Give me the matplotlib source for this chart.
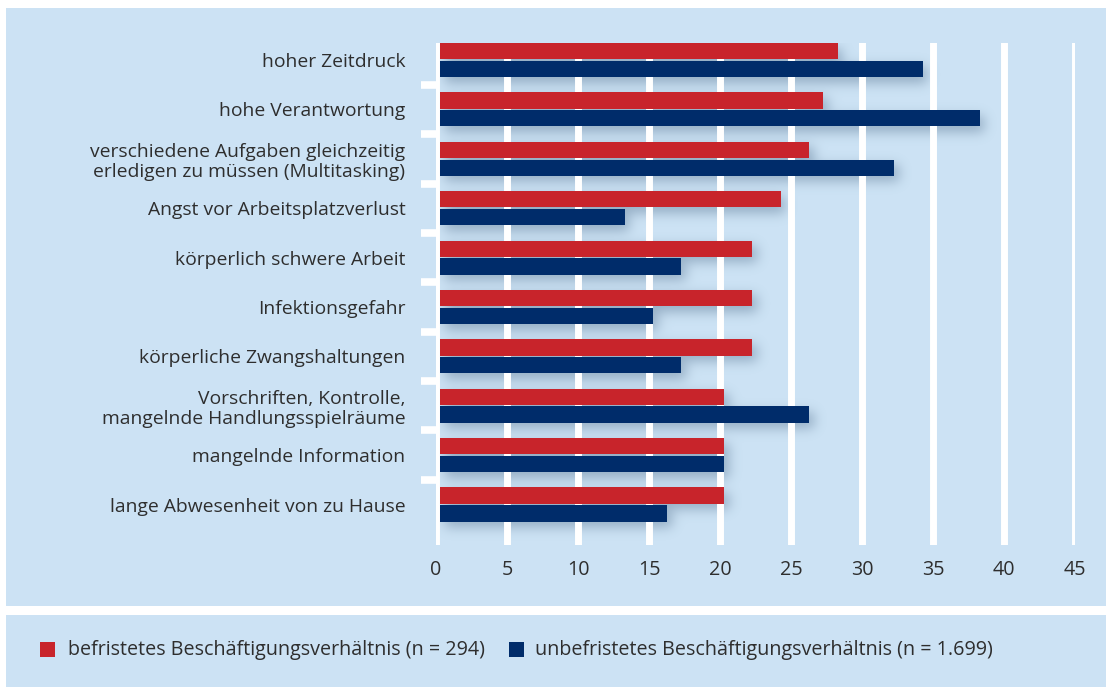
import numpy as np
import matplotlib
matplotlib.use("Agg")
import matplotlib.pyplot as plt
from matplotlib.patches import Rectangle
from matplotlib.transforms import offset_copy

categories = [
    "hoher Zeitdruck",
    "hohe Verantwortung",
    "verschiedene Aufgaben gleichzeitig\nerledigen zu müssen (Multitasking)",
    "Angst vor Arbeitsplatzverlust",
    "körperlich schwere Arbeit",
    "Infektionsgefahr",
    "körperliche Zwangshaltungen",
    "Vorschriften, Kontrolle,\nmangelnde Handlungsspielräume",
    "mangelnde Information",
    "lange Abwesenheit von zu Hause",
]
befristet = [28, 27, 26, 24, 22, 22, 22, 20, 20, 20]
unbefristet = [34, 38, 32, 13, 17, 15, 17, 26, 20, 16]
series_labels = ["befristetes Beschäftigungsverhältnis (n = 294)",
                 "unbefristetes Beschäftigungsverhältnis (n = 1.699)"]
xticks = [0, 5, 10, 15, 20, 25, 30, 35, 40, 45]

RED = "#c8242b"
NAVY = "#002c6a"
PANEL = "#cce2f4"
TXT = "#2e2e2e"
FONT = "Open Sans"
FS = 14.2
FS_CAT = 13.9

W, H = 1106, 687
fig = plt.figure(figsize=(W / 100, H / 100), dpi=100, facecolor="white")

def fx(px):
    return px / W

def fy(py):
    return 1 - py / H

# background panels
fig.patches.append(Rectangle((fx(6), fy(606)), fx(1100), (598) / H,
                             transform=fig.transFigure, facecolor=PANEL, edgecolor="none", zorder=-10))
fig.patches.append(Rectangle((fx(6), 0), fx(1100), (72) / H,
                             transform=fig.transFigure, facecolor=PANEL, edgecolor="none", zorder=-10))

ax_l, ax_r, ax_t, ax_b = 436, 1075, 43, 545
ax = fig.add_axes([fx(ax_l), fy(ax_b), (ax_r - ax_l) / W, (ax_b - ax_t) / H])
ax.set_facecolor("none")

n = len(categories)
y = np.arange(n)
h = 0.33
off = 0.18
ytop, ybot = -0.345, 9.82
ax.set_xlim(0, 45)
ax.set_ylim(ybot, ytop)

BAR_SHIFT_PX = 4

# soft shadow image
pw, ph = ax_r - ax_l, ax_b - ax_t
sx = pw / 45.0
sy = ph / (ybot - ytop)
mask = np.zeros((ph, pw))
dx, dy = 5 + BAR_SHIFT_PX, 6
for i in range(n):
    for val, o in ((befristet[i], -off), (unbefristet[i], off)):
        x0, x1 = int(0 + dx), int(val * sx + dx)
        y0 = int(((y[i] + o - h / 2) - ytop) * sy + dy)
        y1 = int(((y[i] + o + h / 2) - ytop) * sy + dy)
        mask[max(y0, 0):min(y1, ph), max(x0, 0):min(x1, pw)] = 1.0
sig = 6.0
k = np.arange(-18, 19)
g = np.exp(-k ** 2 / (2 * sig ** 2)); g /= g.sum()
blur = np.apply_along_axis(lambda r: np.convolve(r, g, mode="same"), 1, mask)
blur = np.apply_along_axis(lambda c: np.convolve(c, g, mode="same"), 0, blur)
rgba = np.zeros((ph, pw, 4))
rgba[..., 0] = 70 / 255
rgba[..., 1] = 100 / 255
rgba[..., 2] = 130 / 255
rgba[..., 3] = np.clip(blur, 0, 1) * 0.42
ax.imshow(rgba, extent=(0, 45, ybot, ytop), aspect="auto", zorder=0.2, interpolation="bilinear")

shift = offset_copy(ax.transData, fig=fig, x=BAR_SHIFT_PX, y=0, units="dots")
for vals, yy, col in ((befristet, y - off, RED), (unbefristet, y + off, NAVY)):
    bars = ax.barh(yy, vals, height=h, color=col, zorder=2)
    for p in bars.patches:
        p.set_transform(shift)

for v in xticks:
    ax.axvline(v, color="white", lw=5, zorder=1)

for s in ax.spines.values():
    s.set_visible(False)

ax.set_xticks(xticks)
ax.set_xticklabels([str(v) for v in xticks], fontsize=FS, color=TXT, family=FONT)
ax.tick_params(axis="x", length=0, pad=11)

ax.set_yticks(np.arange(n - 1) + 0.5)
ax.set_yticklabels([])
ax.tick_params(axis="y", which="major", length=10.5, width=5.5, color="white", direction="out")
ax.set_yticks(y, minor=True)
ax.set_yticklabels(categories, minor=True, fontsize=FS_CAT, color=TXT, family=FONT,
                   linespacing=1.15)
ax.tick_params(axis="y", which="minor", length=0, pad=22)

# legend
for (cx, tx, col, lab) in ((40, 68, RED, series_labels[0]), (509, 535, NAVY, series_labels[1])):
    fig.patches.append(Rectangle((fx(cx), fy(657)), 15 / W, 15 / H, transform=fig.transFigure,
                                 facecolor=col, edgecolor="none", zorder=2))
    fig.text(fx(tx), fy(650), lab, fontsize=FS, color=TXT, family=FONT, va="center", ha="left")

fig.savefig("out.png", dpi=100, facecolor="white")
